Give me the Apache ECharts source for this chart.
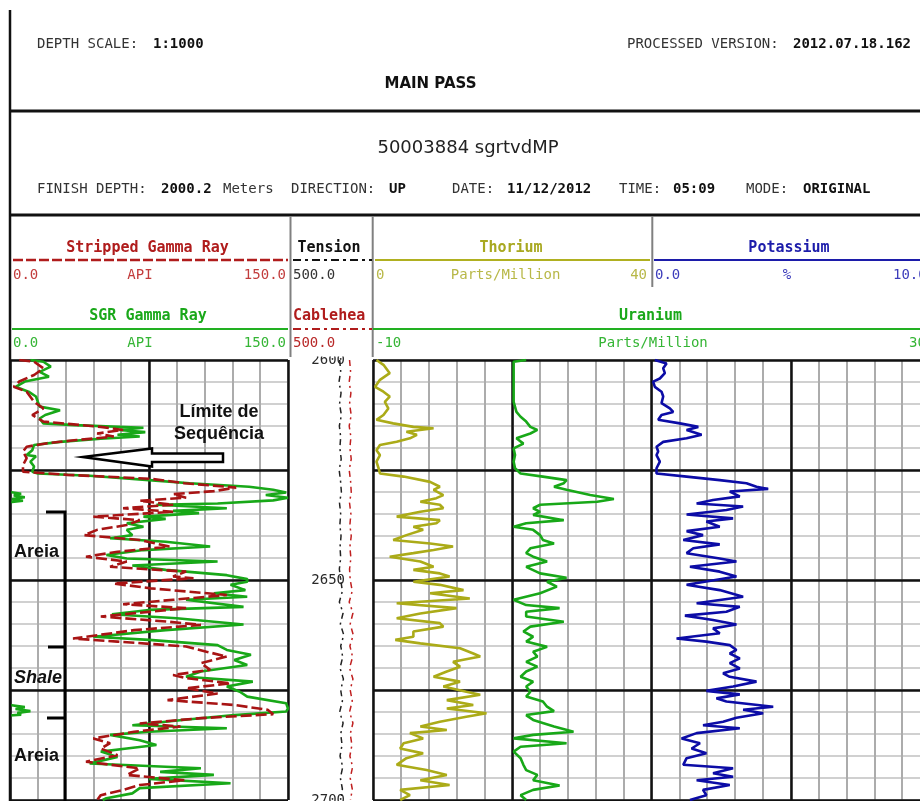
<!DOCTYPE html>
<html>
<head>
<meta charset="utf-8">
<script src="https://cdn.jsdelivr.net/npm/echarts@6/dist/echarts.min.js"></script>
<style>
html,body{margin:0;padding:0;background:#fff;}
#main{width:920px;height:801px;}
</style>
</head>
<body>
<div id="main"></div>
<script>
// ---- Log curves: [depth (m), value] ----
const sgrGammaRay = [
[2600.0,11],[2600.4,18],[2601.5,22],[2602.7,16],[2603.8,21],[2604.9,8],[2606.1,3],[2607.2,10],[2608.3,14],[2609.5,15],[2610.6,16],[2611.4,27],[2612.5,19],[2613.3,16],[2614.4,18],[2614.8,35],[2615.4,72],[2615.9,59],[2616.4,73],[2617.0,58],[2617.4,70],[2617.9,49],[2618.6,27],[2619.3,13],[2620.5,12],[2621.6,9],[2621.9,14],[2623.1,11],[2624.2,13],[2625.4,12],[2625.8,15],[2626.3,43],[2627.3,75],[2628.0,97],[2628.8,129],[2629.5,142],[2630.1,149],[2630.7,138],[2631.3,150],[2631.9,142],[2632.6,112],[2632.9,79],[2633.7,117],[2634.3,88],[2634.8,102],[2635.6,72],[2636.1,84],[2637.1,63],[2637.9,72],[2638.6,63],[2639.8,66],[2640.5,54],[2641.3,84],[2642.4,108],[2643.2,72],[2644.3,52],[2645.1,63],[2645.8,112],[2646.7,66],[2647.7,84],[2648.9,117],[2649.8,128],[2650.4,128],[2651.1,119],[2652.3,127],[2653.0,110],[2653.8,128],[2654.5,95],[2656.1,126],[2656.8,75],[2657.8,55],[2658.7,90],[2660.1,126],[2661.4,84],[2662.9,45],[2663.6,75],[2664.8,112],[2665.9,117],[2667.0,130],[2668.2,121],[2669.3,128],[2670.8,103],[2672.0,95],[2673.1,131],[2674.2,117],[2675.4,124],[2676.5,128],[2678.0,149],[2679.2,150],[2679.9,149],[2680.7,121],[2681.8,93],[2683.0,66],[2683.7,117],[2684.5,75],[2685.2,54],[2686.4,70],[2687.5,79],[2688.3,63],[2689.0,49],[2690.2,58],[2691.7,43],[2692.8,103],[2693.6,81],[2694.3,110],[2695.2,75],[2696.2,119],[2697.3,70],[2698.5,66],[2699.6,52],[2700.0,50]
];
// wrapped (backup) trace where SGR runs past 150 API
const sgrBackup = [
[2630.0,0],[2630.4,6],[2630.8,2],[2631.2,8],[2631.6,1],[2632.0,7],[2632.3,0],null,
[2678.4,0],[2678.9,8],[2679.3,3],[2679.8,11],[2680.2,4],[2680.6,6],[2680.8,0]
];
const strippedGammaRay = [
[2600.0,5],[2600.4,13],[2601.9,18],[2603.4,13],[2604.9,5],[2606.1,2],[2607.2,9],[2609.5,13],[2611.0,18],[2612.5,12],[2614.0,18],[2615.2,49],[2615.9,61],[2616.7,47],[2617.4,56],[2618.2,36],[2618.9,20],[2619.7,9],[2620.8,7],[2622.3,9],[2623.9,7],[2625.4,7],[2626.1,31],[2627.0,76],[2628.0,94],[2629.0,122],[2629.8,110],[2630.5,88],[2631.3,95],[2632.0,70],[2632.9,88],[2633.7,61],[2634.5,88],[2635.6,45],[2636.4,70],[2637.5,63],[2638.6,47],[2639.8,40],[2640.9,70],[2642.4,86],[2643.6,58],[2644.7,41],[2645.8,63],[2647.0,54],[2648.1,95],[2649.2,88],[2649.6,99],[2650.8,56],[2651.9,76],[2653.4,117],[2654.5,88],[2655.5,61],[2656.4,95],[2658.3,49],[2659.5,86],[2660.2,103],[2661.4,67],[2663.3,34],[2664.0,58],[2665.1,95],[2666.3,106],[2667.4,117],[2668.9,103],[2670.4,108],[2671.6,88],[2672.3,95],[2673.5,119],[2674.6,95],[2675.8,112],[2677.3,85],[2678.4,121],[2679.5,139],[2680.5,142],[2681.4,103],[2682.6,70],[2683.3,92],[2684.5,67],[2686.0,45],[2687.1,54],[2688.3,49],[2689.8,58],[2691.3,41],[2692.8,70],[2694.3,63],[2695.5,94],[2696.6,70],[2697.7,61],[2698.9,49],[2700.0,47]
];
const thorium = [
[2600.0,0.5],[2601.1,1.5],[2603.0,2.4],[2604.5,1.0],[2606.1,0.3],[2607.2,1.5],[2608.3,2.4],[2609.5,1.7],[2611.0,2.2],[2612.5,1.5],[2613.6,0.5],[2614.4,2.9],[2615.2,5.8],[2615.5,8.7],[2616.3,4.8],[2617.0,6.3],[2617.8,5.3],[2618.6,3.4],[2619.3,1.0],[2620.5,0.5],[2621.6,1.0],[2623.1,0.5],[2624.6,0.8],[2625.8,1.0],[2626.5,4.4],[2627.7,8.2],[2628.8,9.6],[2629.5,8.7],[2630.7,10.1],[2631.4,9.1],[2632.2,6.8],[2632.9,9.6],[2633.7,10.1],[2634.5,6.8],[2635.6,3.4],[2636.4,9.6],[2637.1,9.1],[2637.9,5.8],[2638.6,7.2],[2639.8,4.8],[2640.9,2.9],[2641.7,8.2],[2642.4,11.5],[2643.2,8.7],[2643.9,5.8],[2644.7,2.4],[2645.8,6.8],[2647.0,8.7],[2647.7,5.8],[2648.5,9.6],[2649.2,11.0],[2650.4,5.8],[2651.1,9.6],[2652.3,13.0],[2653.0,8.2],[2654.2,13.9],[2655.3,3.4],[2656.4,12.0],[2657.6,6.8],[2658.7,3.4],[2659.8,9.6],[2660.6,10.1],[2661.7,5.8],[2662.9,5.8],[2663.6,3.2],[2664.4,6.8],[2665.5,12.5],[2666.7,14.4],[2667.4,15.4],[2668.6,11.5],[2669.7,12.5],[2670.8,10.6],[2672.0,8.7],[2673.1,12.5],[2674.2,10.1],[2675.4,13.4],[2676.1,15.4],[2677.3,10.6],[2678.4,14.4],[2679.2,10.6],[2680.3,16.3],[2681.1,13.4],[2682.2,9.6],[2683.3,6.8],[2684.1,10.6],[2684.8,5.3],[2686.0,7.2],[2687.1,4.4],[2688.3,3.9],[2689.4,7.2],[2690.5,4.8],[2692.0,3.4],[2693.2,7.7],[2694.3,10.6],[2695.5,6.8],[2696.6,11.0],[2697.7,3.9],[2698.9,5.3],[2700.0,3.9]
];
const uranium = [
[2600.0,1.0],[2600.4,0.1],[2602.7,0.1],[2604.9,0.1],[2607.2,0.1],[2609.5,0.1],[2611.8,0.3],[2612.9,0.6],[2614.0,1.0],[2615.2,1.3],[2615.9,1.8],[2616.7,1.3],[2617.8,0.3],[2619.0,0.8],[2620.1,0.1],[2621.6,0.2],[2623.1,0.1],[2624.6,0.2],[2625.8,0.6],[2626.5,2.2],[2627.3,3.9],[2628.0,3.7],[2628.8,3.0],[2629.5,3.9],[2630.7,5.6],[2631.6,7.3],[2632.2,6.1],[2632.9,2.0],[2633.7,1.5],[2634.5,2.0],[2635.2,1.5],[2636.4,3.7],[2637.1,1.0],[2637.9,0.1],[2638.6,1.5],[2639.8,2.0],[2640.9,2.2],[2641.7,3.0],[2642.8,1.3],[2643.9,1.0],[2644.7,1.5],[2645.8,2.5],[2647.0,1.0],[2648.5,2.0],[2649.5,3.9],[2650.4,2.5],[2651.5,3.2],[2653.0,2.0],[2654.5,0.1],[2655.7,1.0],[2656.4,3.4],[2657.2,1.0],[2658.3,1.0],[2659.5,3.7],[2660.6,1.3],[2661.7,0.8],[2662.9,1.5],[2664.0,1.0],[2665.2,2.5],[2666.3,1.5],[2667.4,1.8],[2668.6,1.0],[2669.7,1.8],[2670.8,1.0],[2672.0,0.6],[2673.1,1.5],[2674.2,1.0],[2675.4,1.3],[2676.5,1.0],[2677.6,2.2],[2678.8,2.5],[2679.8,3.0],[2680.7,1.0],[2681.8,1.5],[2683.3,3.0],[2684.5,4.4],[2685.2,1.5],[2686.0,0.1],[2687.1,3.9],[2687.9,0.6],[2689.0,0.1],[2690.5,0.6],[2692.0,0.8],[2693.2,1.0],[2694.3,1.8],[2695.5,1.5],[2696.7,3.4],[2697.7,1.5],[2698.9,0.6],[2700.0,1.0]
];
const potassium = [
[2600.0,0.12],[2600.8,0.54],[2601.9,0.42],[2603.0,0.48],[2604.2,0.30],[2604.9,0.06],[2606.1,0.12],[2607.2,0.36],[2608.3,0.42],[2609.8,0.36],[2611.0,0.66],[2611.8,0.78],[2612.5,0.36],[2613.6,0.24],[2614.4,1.02],[2615.2,1.68],[2615.9,1.26],[2617.0,1.80],[2617.8,1.26],[2618.6,0.42],[2619.7,0.18],[2620.8,0.24],[2621.6,0.18],[2623.1,0.30],[2624.6,0.18],[2625.8,0.18],[2626.5,1.26],[2627.3,2.45],[2628.0,3.41],[2628.8,3.77],[2629.3,4.19],[2629.9,2.81],[2631.0,3.17],[2631.8,2.21],[2632.6,1.62],[2633.3,3.29],[2634.1,2.69],[2635.1,1.26],[2636.0,2.93],[2636.7,1.97],[2637.9,2.45],[2638.9,1.26],[2639.8,1.85],[2640.9,1.14],[2641.9,2.45],[2642.8,1.50],[2643.9,1.26],[2645.1,2.45],[2645.8,3.05],[2647.0,1.38],[2648.1,2.45],[2649.2,3.05],[2649.6,3.05],[2651.1,1.26],[2652.3,2.45],[2653.8,3.29],[2655.3,1.62],[2656.1,3.17],[2657.2,2.69],[2658.1,1.20],[2659.1,2.21],[2660.1,3.05],[2661.0,2.21],[2662.1,2.45],[2663.3,0.90],[2664.0,1.97],[2664.8,2.81],[2665.9,3.05],[2666.7,2.81],[2667.8,3.17],[2668.9,2.81],[2670.1,3.17],[2671.2,2.57],[2672.0,2.81],[2673.1,3.77],[2674.2,2.93],[2675.2,1.97],[2676.0,3.17],[2676.9,2.33],[2677.6,2.69],[2678.8,4.37],[2679.5,3.29],[2680.3,4.01],[2681.3,3.05],[2682.2,2.57],[2683.0,1.85],[2683.7,3.17],[2684.8,1.62],[2686.0,1.08],[2687.1,1.74],[2688.3,1.44],[2689.4,1.97],[2690.5,1.26],[2692.0,1.14],[2692.8,2.93],[2693.9,2.21],[2694.7,2.93],[2695.5,1.62],[2696.6,2.81],[2697.7,1.85],[2698.9,1.97],[2700.0,1.38]
];
const tension = [
[2600,196],[2602.5,190],[2605,200],[2607.5,188],[2610,197],[2612.5,186],[2615,198],[2617.5,190],[2620,195],[2622.5,187],[2625,199],[2627.5,191],[2630,186],[2632.5,197],[2635,190],[2637.5,195],[2640,188],[2642.5,194],[2645,190],[2647.5,198],[2650,190],[2652.5,180],[2655,198],[2657.5,176],[2660,192],[2662.5,172],[2665,190],[2667.5,178],[2670,194],[2672.5,174],[2675,190],[2677.5,180],[2680,196],[2682.5,176],[2685,190],[2687.5,182],[2690,194],[2692.5,178],[2695,192],[2697.5,180],[2700,190]
];
const cablehead = [
[2600,138],[2602.5,132],[2605,140],[2607.5,130],[2610,138],[2612.5,128],[2615,140],[2617.5,130],[2620,136],[2622.5,128],[2625,140],[2627.5,132],[2630,128],[2632.5,138],[2635,130],[2637.5,136],[2640,128],[2642.5,136],[2645,130],[2647.5,138],[2650,134],[2652.5,122],[2655,140],[2657.5,118],[2660,134],[2662.5,116],[2665,136],[2667.5,120],[2670,138],[2672.5,118],[2675,134],[2677.5,122],[2680,138],[2682.5,118],[2685,134],[2687.5,124],[2690,136],[2692.5,120],[2695,134],[2697.5,122],[2700,132]
];
const depthLabels = [2600, 2650, 2700];

// ---- drawing ----
const MONO = "'DejaVu Sans Mono', monospace";
const SANS = "'DejaVu Sans', sans-serif";
const ARIAL = "'Liberation Sans', Arial, sans-serif";
const GREEN = '#18a818', RED = '#a81414', OLIVE = '#abab18', BLUE = '#0c0ca6';
const DEPTH_MIN = 2600, DEPTH_MAX = 2700;

function toXY(pairs) { return pairs.map(p => p ? [p[1], p[0]] : null); }

function txt(x, y, text, font, fill, align) {
  return { type: 'text', x: x, y: y, z: 50, silent: true,
    style: { text: text, font: font, fill: fill, align: align || 'left', verticalAlign: 'middle' } };
}
function hline(x1, y, x2, color, w, dash) {
  return { type: 'line', z: 50, silent: true, shape: { x1: x1, y1: y, x2: x2, y2: y },
    style: { stroke: color, lineWidth: w, lineDash: dash || null } };
}
function vline(x, y1, y2, color, w) {
  return { type: 'line', z: 50, silent: true, shape: { x1: x, y1: y1, x2: x, y2: y2 },
    style: { stroke: color, lineWidth: w } };
}

const R14 = '14px ' + MONO, B14 = 'bold 14px ' + MONO, B15 = 'bold 15px ' + MONO;

const header = [
  vline(10, 10, 801, '#111', 2.5),
  hline(10, 111, 920, '#111', 3),
  hline(10, 215, 920, '#111', 3),
  txt(37, 44, 'DEPTH SCALE:', R14, '#333'),
  txt(153, 44, '1:1000', B14, '#111'),
  txt(627, 44, 'PROCESSED VERSION:', R14, '#333'),
  txt(793, 44, '2012.07.18.162', B14, '#111'),
  txt(430.5, 84, 'MAIN PASS', 'bold 15px ' + SANS, '#111', 'center'),
  txt(468, 148, '50003884 sgrtvdMP', '18px ' + SANS, '#222', 'center'),
  txt(37, 189, 'FINISH DEPTH:', R14, '#333'),
  txt(161, 189, '2000.2', B14, '#111'),
  txt(223, 189, 'Meters', R14, '#333'),
  txt(291, 189, 'DIRECTION:', R14, '#333'),
  txt(389, 189, 'UP', B14, '#111'),
  txt(452, 189, 'DATE:', R14, '#333'),
  txt(507, 189, '11/12/2012', B14, '#111'),
  txt(619, 189, 'TIME:', R14, '#333'),
  txt(673, 189, '05:09', B14, '#111'),
  txt(746, 189, 'MODE:', R14, '#333'),
  txt(803, 189, 'ORIGINAL', B14, '#111'),

  vline(290.5, 216, 357, '#808080', 2),
  vline(372.7, 216, 357, '#808080', 2),
  vline(652.3, 216, 287, '#808080', 2),

  txt(147.5, 248, 'Stripped Gamma Ray', B15, '#b01c1c', 'center'),
  hline(13, 260, 288, '#b01c1c', 2.5, [10, 3]),
  txt(13, 275, '0.0', R14, '#c23c3c'),
  txt(140, 275, 'API', R14, '#c23c3c', 'center'),
  txt(286, 275, '150.0', R14, '#c23c3c', 'right'),

  txt(329, 248, 'Tension', B15, '#111', 'center'),
  hline(293, 260, 372, '#111', 2, [8, 4, 3, 4]),
  txt(293, 275, '500.0', R14, '#333'),

  txt(511, 248, 'Thorium', B15, '#a8a820', 'center'),
  hline(375, 260, 650, '#b0b020', 2),
  txt(376, 275, '0', R14, '#b8b848'),
  txt(505.6, 275, 'Parts/Million', R14, '#b8b848', 'center'),
  txt(647, 275, '40', R14, '#b8b848', 'right'),

  txt(789, 248, 'Potassium', B15, '#1c1caa', 'center'),
  hline(654, 260, 920, '#1c1caa', 2),
  txt(655, 275, '0.0', R14, '#3c3cbb'),
  txt(787, 275, '%', R14, '#3c3cbb', 'center'),
  txt(893, 275, '10.0', R14, '#3c3cbb'),

  txt(148, 316, 'SGR Gamma Ray', B15, '#1aa81a', 'center'),
  hline(12, 329, 288, '#22b022', 2),
  txt(13, 343, '0.0', R14, '#35b535'),
  txt(140, 343, 'API', R14, '#35b535', 'center'),
  txt(286, 343, '150.0', R14, '#35b535', 'right'),

  txt(293, 316, 'Cablehea', B15, '#b01c1c'),
  hline(293, 329, 372, '#b01c1c', 2, [8, 4, 3, 4]),
  txt(293, 343, '500.0', R14, '#b82828'),

  txt(650.5, 316, 'Uranium', B15, '#1aa81a', 'center'),
  hline(373, 329, 920, '#22b022', 2),
  txt(376, 343, '-10', R14, '#35b535'),
  txt(653, 343, 'Parts/Million', R14, '#35b535', 'center'),
  txt(909, 343, '30', R14, '#35b535'),

  { type: 'rect', z: 60, silent: true, shape: { x: 292, y: 350, width: 79, height: 6.5 }, style: { fill: '#fff' } }
];

const ANN = 'bold 18px ' + ARIAL;
const notes = [
  txt(219, 412, 'Límite de', ANN, '#111', 'center'),
  txt(219, 434, 'Sequência', ANN, '#111', 'center'),
  { type: 'polygon', z: 55, silent: true,
    shape: { points: [[83, 457], [152, 448.5], [152, 453.5], [223, 453.5], [223, 462], [152, 462], [152, 466.5]] },
    style: { fill: '#fff', stroke: '#000', lineWidth: 2.5, lineJoin: 'miter' } },
  { type: 'polyline', z: 55, silent: true, shape: { points: [[46, 512], [65, 512], [65, 801]] },
    style: { stroke: '#000', lineWidth: 3, fill: null } },
  hline(48, 647, 65, '#000', 3),
  hline(47, 718, 65, '#000', 3),
  txt(14, 552, 'Areia', ANN, '#111'),
  txt(14, 678, 'Shale', 'italic bold 18px ' + ARIAL, '#111'),
  txt(14, 756, 'Areia', ANN, '#111')
];

const minorV = { show: true, lineStyle: { color: '#acacac', width: 2 } };
const minorH = { show: true, lineStyle: { color: '#d0d0d0', width: 2 } };
const major = { show: true, lineStyle: { color: '#111', width: 2.5 } };
const bare = { axisLine: { show: false }, axisTick: { show: false }, axisLabel: { show: false } };

function gridAxis(extra) { return Object.assign({ type: 'value', show: true }, bare, extra); }
function hiddenAxis(extra) { return Object.assign({ type: 'value', show: false, splitLine: { show: false } }, extra); }
function track(left, width) { return { left: left, top: 360, width: width, height: 440, outerBoundsMode: 'none', containLabel: false }; }

const CURVE_W = 2.6;
const option = {
  animation: false,
  backgroundColor: '#fff',
  grid: [
    track(10, 278),       // gamma ray track
    track(288, 85),       // depth track
    track(373, 557),      // spectral track (uranium scale)
    track(373, 278.5),    // thorium scale
    track(651.5, 278.5)   // potassium scale
  ],
  xAxis: [
    gridAxis({ gridIndex: 0, position: 'bottom', min: 0, max: 150, interval: 15, splitLine: minorV, z: 0 }),
    gridAxis({ gridIndex: 0, position: 'top', min: 0, max: 150, interval: 75, splitLine: major, z: 1 }),
    hiddenAxis({ gridIndex: 1, min: 0, max: 500, inverse: true }),
    hiddenAxis({ gridIndex: 1, min: 0, max: 500, inverse: true, position: 'top' }),
    gridAxis({ gridIndex: 2, position: 'bottom', min: -10, max: 30, interval: 2, splitLine: minorV, z: 0 }),
    gridAxis({ gridIndex: 2, position: 'top', min: -10, max: 30, interval: 10, splitLine: major, z: 1 }),
    hiddenAxis({ gridIndex: 3, min: 0, max: 40 }),
    hiddenAxis({ gridIndex: 4, min: 0, max: 10 })
  ],
  yAxis: [
    gridAxis({ gridIndex: 0, position: 'left', min: DEPTH_MIN, max: DEPTH_MAX, interval: 5, inverse: true, splitLine: minorH, z: 0 }),
    gridAxis({ gridIndex: 0, position: 'right', min: DEPTH_MIN, max: DEPTH_MAX, interval: 25, inverse: true, splitLine: major, z: 1 }),
    { type: 'value', gridIndex: 1, position: 'left', min: DEPTH_MIN, max: DEPTH_MAX, interval: 50, inverse: true,
      axisLine: { show: false }, axisTick: { show: false }, splitLine: { show: false },
      axisLabel: { show: true, inside: true, align: 'right', verticalAlign: 'middle', margin: 57, color: '#2a2a2a',
        fontFamily: 'DejaVu Sans Mono', fontSize: 14, showMinLabel: true, showMaxLabel: true,
        formatter: v => depthLabels.indexOf(v) >= 0 ? String(v) : '' } },
    gridAxis({ gridIndex: 2, position: 'left', min: DEPTH_MIN, max: DEPTH_MAX, interval: 5, inverse: true, splitLine: minorH, z: 0 }),
    gridAxis({ gridIndex: 2, position: 'right', min: DEPTH_MIN, max: DEPTH_MAX, interval: 25, inverse: true, splitLine: major, z: 1 }),
    hiddenAxis({ gridIndex: 3, min: DEPTH_MIN, max: DEPTH_MAX, inverse: true }),
    hiddenAxis({ gridIndex: 4, min: DEPTH_MIN, max: DEPTH_MAX, inverse: true })
  ],
  series: [
    { name: 'SGR Gamma Ray', type: 'line', xAxisIndex: 0, yAxisIndex: 0, data: toXY(sgrGammaRay),
      symbol: 'none', lineStyle: { color: GREEN, width: CURVE_W }, z: 3 },
    { name: 'SGR Backup', type: 'line', xAxisIndex: 0, yAxisIndex: 0, data: toXY(sgrBackup),
      symbol: 'none', connectNulls: false, lineStyle: { color: GREEN, width: CURVE_W }, z: 3 },
    { name: 'Stripped Gamma Ray', type: 'line', xAxisIndex: 0, yAxisIndex: 0, data: toXY(strippedGammaRay),
      symbol: 'none', lineStyle: { color: RED, width: CURVE_W, type: [11, 4] }, z: 4 },
    { name: 'Tension', type: 'line', xAxisIndex: 2, yAxisIndex: 2, data: toXY(tension),
      symbol: 'none', lineStyle: { color: '#222', width: 1.5, type: [6, 4, 2, 4] }, z: 3 },
    { name: 'Cablehea', type: 'line', xAxisIndex: 3, yAxisIndex: 2, data: toXY(cablehead),
      symbol: 'none', lineStyle: { color: '#c02020', width: 1.5, type: [6, 4, 2, 4] }, z: 3 },
    { name: 'Thorium', type: 'line', xAxisIndex: 6, yAxisIndex: 5, data: toXY(thorium),
      symbol: 'none', lineStyle: { color: OLIVE, width: CURVE_W }, z: 3 },
    { name: 'Uranium', type: 'line', xAxisIndex: 4, yAxisIndex: 3, data: toXY(uranium),
      symbol: 'none', lineStyle: { color: GREEN, width: CURVE_W }, z: 3 },
    { name: 'Potassium', type: 'line', xAxisIndex: 7, yAxisIndex: 6, data: toXY(potassium),
      symbol: 'none', lineStyle: { color: BLUE, width: CURVE_W }, z: 3 }
  ],
  graphic: { elements: header.concat(notes) }
};

const chart = echarts.init(document.getElementById('main'), null, { renderer: 'canvas' });
chart.setOption(option);
</script>
</body>
</html>
